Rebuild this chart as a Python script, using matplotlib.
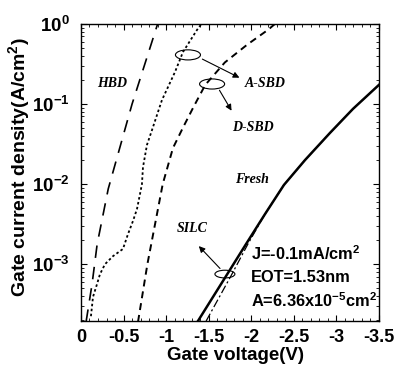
import numpy as np
import matplotlib
matplotlib.use("Agg")
import matplotlib.pyplot as plt
from matplotlib.patches import Ellipse

plt.rcParams['font.family'] = ['Liberation Sans', 'DejaVu Sans']
plt.rcParams['font.weight'] = 'bold'
plt.rcParams['mathtext.fontset'] = 'custom'
plt.rcParams['mathtext.rm'] = 'Liberation Sans:bold'
plt.rcParams['mathtext.bf'] = 'Liberation Sans:bold'
plt.rcParams['mathtext.it'] = 'Liberation Sans:bold:italic'
plt.rcParams['lines.scale_dashes'] = False

# Gate voltage (V) and log10 of gate current density (A/cm^2)
hbd_v = np.array([-0.06, -0.13, -0.19, -0.32, -0.60, -0.87, -0.93])
hbd_logj = np.array([-3.72, -3.25, -2.75, -2.06, -1.00, -0.10, 0.10])

asbd_v = np.array([-0.117, -0.141, -0.188, -0.223, -0.282, -0.376, -0.493, -0.552,
                   -0.611, -0.658, -0.693, -0.716, -0.728, -0.775, -0.834, -0.951,
                   -1.104, -1.198, -1.362, -1.433])
asbd_logj = np.array([-3.65, -3.41, -3.25, -3.125, -3.00, -2.90, -2.81, -2.625,
                      -2.46, -2.31, -2.125, -2.00, -1.79, -1.51, -1.325, -0.95,
                      -0.60, -0.35, -0.075, 0.025])

dsbd_v = np.array([-0.67, -0.78, -0.87, -0.96, -1.08, -1.20, -1.32, -1.46, -1.69,
                   -1.95, -2.20, -2.30])
dsbd_logj = np.array([-3.72, -3.00, -2.50, -2.00, -1.55, -1.29, -1.04, -0.76, -0.48,
                      -0.26, -0.07, 0.02])

fresh_v = np.array([-1.374, -1.703, -1.938, -2.161, -2.384, -2.631, -2.925, -3.195, -3.50])
fresh_logj = np.array([-3.71, -3.15, -2.75, -2.375, -2.01, -1.70, -1.36, -1.06, -0.76])

silc_v = np.array([-1.47, -1.76, -1.96, -2.161, -2.384, -2.631, -2.925, -3.195, -3.50])
silc_logj = np.array([-3.71, -3.15, -2.75, -2.375, -2.01, -1.70, -1.36, -1.06, -0.76])

fig = plt.figure(figsize=(3.96, 3.68), dpi=100)
ax = fig.add_axes([0.2045, 0.1277, 0.7525, 0.8071])

ax.plot(hbd_v, 10 ** hbd_logj, color='black', lw=1.2, dashes=(9, 6.5))
ax.plot(asbd_v, 10 ** asbd_logj, color='black', lw=1.3, dashes=(1.8, 1.8))
ax.plot(dsbd_v, 10 ** dsbd_logj, color='black', lw=1.4, dashes=(5, 3.6))
ax.plot(silc_v, 10 ** silc_logj, color='black', lw=0.9, dashes=(6, 2, 1.5, 2))
ax.plot(fresh_v, 10 ** fresh_logj, color='black', lw=1.8)

ax.set_yscale('log')
ax.set_xlim(0, -3.5)
ax.set_ylim(10 ** -3.71, 1)
ax.set_xticks([0, -0.5, -1, -1.5, -2, -2.5, -3, -3.5])
ax.set_xticklabels(['0', '-0.5', '-1', '-1.5', '-2', '-2.5', '-3', '-3.5'])
ax.set_xticks(np.arange(0, -3.55, -0.1), minor=True)
ax.set_yticks([1e-3, 1e-2, 1e-1, 1])
ax.set_yticklabels([r'$\mathbf{10^{-3}}$', r'$\mathbf{10^{-2}}$',
                    r'$\mathbf{10^{-1}}$', r'$\mathbf{10^{0}}$'])
ax.tick_params(which='both', direction='in', top=True, right=True)
ax.tick_params(axis='x', labelsize=13, pad=6)
ax.tick_params(axis='y', labelsize=13.5, pad=8)
ax.tick_params(which='major', length=4, width=0.8)
ax.tick_params(which='minor', length=2, width=0.6)
for s in ax.spines.values():
    s.set_linewidth(1.0)

ax.set_xlabel('Gate voltage(V)', fontsize=13.5, fontweight='bold')
ax.xaxis.set_label_coords(0.518, -0.088)
ax.set_ylabel('Gate current density(A/cm$^\\mathbf{2}$)', fontsize=14,
              fontweight='bold')
ax.yaxis.set_label_coords(-0.163, 0.518)

# curve labels
lab = dict(family=['Liberation Serif', 'DejaVu Serif'], style='italic',
           weight='bold', fontsize=10, transform=ax.transAxes, va='center')
ax.text(0.054, 0.798, 'HBD', **lab)
ax.text(0.548, 0.801, 'A-SBD', **lab)
ax.text(0.508, 0.653, 'D-SBD', **lab)
ax.text(0.517, 0.475, 'Fresh', **lab)
ax.text(0.322, 0.31, 'SILC', **lab)

# ellipses and arrows
for cx, cy, w, h in [(0.359, 0.896, 0.084, 0.034),
                     (0.440, 0.798, 0.084, 0.034),
                     (0.483, 0.158, 0.067, 0.026)]:
    ax.add_patch(Ellipse((cx, cy), w, h, transform=ax.transAxes,
                         fill=False, ec='black', lw=0.8))
arr = dict(arrowstyle='-|>', color='black', lw=0.8, mutation_scale=9)
ax.annotate('', xy=(0.540, 0.815), xytext=(0.399, 0.886),
            xycoords='axes fraction', arrowprops=arr)
ax.annotate('', xy=(0.510, 0.700), xytext=(0.460, 0.785),
            xycoords='axes fraction', arrowprops=arr)
ax.annotate('', xy=(0.389, 0.259), xytext=(0.473, 0.170),
            xycoords='axes fraction', arrowprops=arr)

# info text
info = dict(fontsize=11.8, fontweight='bold', transform=ax.transAxes, va='center')
ax.text(0.570, 0.226, 'J=-0.1mA/cm$^\\mathbf{2}$', **info)
ax.text(0.570, 0.148, 'EOT=1.53nm', **info)
ax.text(0.570, 0.067, 'A=6.36x10$^\\mathbf{-5}$cm$^\\mathbf{2}$', **info)

fig.savefig('out.png', dpi=100)
